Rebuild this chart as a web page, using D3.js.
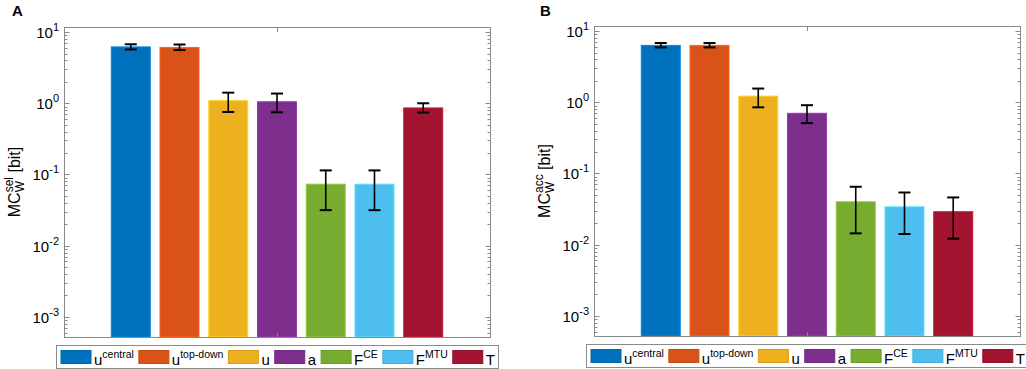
<!DOCTYPE html>
<html>
<head>
<meta charset="utf-8">
<script src="https://cdn.jsdelivr.net/npm/d3@7"></script>
<style>
  body { margin: 0; background: #fff; }
  text { font-family: "Liberation Sans", Arial, sans-serif; fill: #000; }
</style>
</head>
<body>
<svg id="chart" width="1026" height="369"></svg>
<script>
// categories (legend labels: base + superscript)
const labelBase = ["u", "u", "u", "a", "F", "F", "T"];
const labelSup = ["central", "top-down", "", "", "CE", "MTU", ""];
const colors = ["#0072BD", "#D95319", "#EDB120", "#7E2F8E", "#77AC30", "#4DBEEE", "#A2142F"];

// panel A: MC_W^sel [bit]
const selMean = [6.2, 6.1, 1.09, 1.05, 0.073, 0.073, 0.86];
const selLow = [5.7, 5.6, 0.755, 0.747, 0.0315, 0.0315, 0.74];
const selHigh = [6.75, 6.7, 1.41, 1.37, 0.114, 0.114, 1.0];

// panel B: MC_W^acc [bit]
const accMean = [6.3, 6.3, 1.22, 0.70, 0.040, 0.034, 0.029];
const accLow = [5.9, 5.9, 0.85, 0.51, 0.0144, 0.0141, 0.0121];
const accHigh = [6.8, 6.8, 1.56, 0.91, 0.065, 0.054, 0.046];

const yTickExp = [-3, -2, -1, 0, 1];

const svg = d3.select("#chart");

const panels = [
  { letter: "A", sup: "sel", mean: selMean, low: selLow, high: selHigh,
    left: 64, right: 490, top: 27, bottom: 337, letterX: 12 },
  { letter: "B", sup: "acc", mean: accMean, low: accLow, high: accHigh,
    left: 594, right: 1020, top: 26, bottom: 336, letterX: 540 }
];

panels.forEach((p) => drawPanel(p));

function drawPanel(p) {
  const g = svg.append("g");
  const x = d3.scaleBand()
    .domain(d3.range(labelBase.length))
    .range([p.left, p.right])
    .paddingInner(0.2)
    .paddingOuter(0.97);
  const y = d3.scaleLog()
    .domain([5.2e-4, 11.8])
    .range([p.bottom, p.top]);

  // bars
  g.selectAll("rect.bar")
    .data(p.mean)
    .enter()
    .append("rect")
    .attr("class", "bar")
    .attr("x", (d, i) => x(i))
    .attr("width", x.bandwidth())
    .attr("y", (d) => y(d))
    .attr("height", (d) => p.bottom - y(d))
    .attr("fill", (d, i) => colors[i])
    .attr("stroke", (d, i) => d3.color(colors[i]).brighter(0.5))
    .attr("stroke-width", 1);

  // error bars
  const cap = 6;
  const eb = g.selectAll("g.err")
    .data(p.mean)
    .enter()
    .append("g")
    .attr("class", "err")
    .attr("transform", (d, i) => `translate(${x(i) + x.bandwidth() / 2},0)`);
  eb.append("line")
    .attr("y1", (d, i) => y(p.low[i]))
    .attr("y2", (d, i) => y(p.high[i]))
    .attr("stroke", "#000")
    .attr("stroke-width", 1.6);
  eb.append("line")
    .attr("x1", -cap).attr("x2", cap)
    .attr("y1", (d, i) => y(p.low[i]))
    .attr("y2", (d, i) => y(p.low[i]))
    .attr("stroke", "#000")
    .attr("stroke-width", 2);
  eb.append("line")
    .attr("x1", -cap).attr("x2", cap)
    .attr("y1", (d, i) => y(p.high[i]))
    .attr("y2", (d, i) => y(p.high[i]))
    .attr("stroke", "#000")
    .attr("stroke-width", 2);

  // axes box
  const axisCol = "#8a8a8a";
  g.append("rect")
    .attr("x", p.left + 0.5)
    .attr("y", p.top + 0.5)
    .attr("width", p.right - p.left)
    .attr("height", p.bottom - p.top)
    .attr("fill", "none")
    .attr("stroke", axisCol)
    .attr("stroke-width", 1);

  // y ticks (major + minor), both sides, pointing in
  const minor = [];
  for (let k = -4; k <= 1; k++) {
    for (let m = 2; m <= 9; m++) {
      const v = m * Math.pow(10, k);
      if (v > y.domain()[0] && v < y.domain()[1]) minor.push(v);
    }
  }
  const major = yTickExp.map((e) => Math.pow(10, e));
  [p.left + 0.5, p.right + 0.5].forEach((ax, side) => {
    const dir = side === 0 ? 1 : -1;
    g.selectAll(null).data(major).enter().append("line")
      .attr("x1", ax).attr("x2", ax + dir * 5)
      .attr("y1", (d) => Math.round(y(d)) + 0.5)
      .attr("y2", (d) => Math.round(y(d)) + 0.5)
      .attr("stroke", axisCol);
    g.selectAll(null).data(minor).enter().append("line")
      .attr("x1", ax).attr("x2", ax + dir * 3)
      .attr("y1", (d) => Math.round(y(d)) + 0.5)
      .attr("y2", (d) => Math.round(y(d)) + 0.5)
      .attr("stroke", axisCol);
  });

  // single x tick at 4th category, top and bottom
  const xt = Math.round(x(3) + x.bandwidth() / 2) + 0.5;
  g.append("line").attr("x1", xt).attr("x2", xt)
    .attr("y1", p.bottom + 0.5).attr("y2", p.bottom - 4).attr("stroke", axisCol);
  g.append("line").attr("x1", xt).attr("x2", xt)
    .attr("y1", p.top + 0.5).attr("y2", p.top + 5).attr("stroke", axisCol);

  // y tick labels 10^k
  const tl = g.selectAll("text.ytl")
    .data(yTickExp)
    .enter()
    .append("text")
    .attr("class", "ytl")
    .attr("x", p.left - 5)
    .attr("y", (d) => y(Math.pow(10, d)) + 6)
    .attr("text-anchor", "end")
    .attr("font-size", 15);
  tl.append("tspan").text("10");
  tl.append("tspan").attr("dy", -7).attr("font-size", 11).text((d) => d);

  // y label: MC^sup_W [bit]
  const lab = g.append("text")
    .attr("transform", `translate(${p.left - 44},${(p.top + p.bottom) / 2}) rotate(-90)`)
    .attr("text-anchor", "middle")
    .attr("font-size", 16);
  lab.append("tspan").text("MC");
  const supT = lab.append("tspan").attr("dy", -7).attr("font-size", 12).text(p.sup);
  const subT = lab.append("tspan").attr("dy", 11).attr("font-size", 12).text("W");
  const rest = lab.append("tspan").attr("dy", -4).text(" [bit]");
  const supW = supT.node().getComputedTextLength();
  const subW = subT.node().getComputedTextLength();
  subT.attr("dx", -supW);
  rest.attr("dx", Math.max(0, supW - subW));

  // panel letter
  g.append("text")
    .attr("x", p.letterX)
    .attr("y", 16)
    .attr("font-size", 15)
    .attr("font-weight", "bold")
    .text(p.letter);

  // legend
  const lg = g.append("g");
  const items = lg.selectAll("g.item")
    .data(labelBase)
    .enter()
    .append("g")
    .attr("class", "item");
  items.append("rect")
    .attr("x", 0).attr("y", -6.5)
    .attr("width", 30).attr("height", 13)
    .attr("fill", (d, i) => colors[i])
    .attr("stroke", (d, i) => d3.color(colors[i]).darker(0.3))
    .attr("stroke-width", 1);
  const lt = items.append("text")
    .attr("x", 33)
    .attr("y", 8)
    .attr("font-size", 15);
  lt.append("tspan").text((d) => d);
  lt.append("tspan").attr("dy", -7).attr("font-size", 10.5).text((d, i) => labelSup[i]);

  const gap = 5;
  const offsets = [];
  let offset = 0;
  items.each(function () {
    const w = d3.select(this).select("text").node().getComputedTextLength();
    offsets.push(offset);
    offset += 33 + w + gap;
  });
  const totalW = offset - gap + 8;
  const cx = (p.left + p.right) / 2;
  const boxX = Math.round(cx - totalW / 2);
  const boxTop = p.bottom + 8.5;
  lg.insert("rect", ":first-child")
    .attr("x", boxX + 0.5)
    .attr("y", boxTop)
    .attr("width", totalW)
    .attr("height", 23)
    .attr("fill", "#fff")
    .attr("stroke", axisCol);
  items.attr("transform", (d, i) => `translate(${boxX + 5 + offsets[i]},${boxTop + 11.5})`);
}
</script>
</body>
</html>
